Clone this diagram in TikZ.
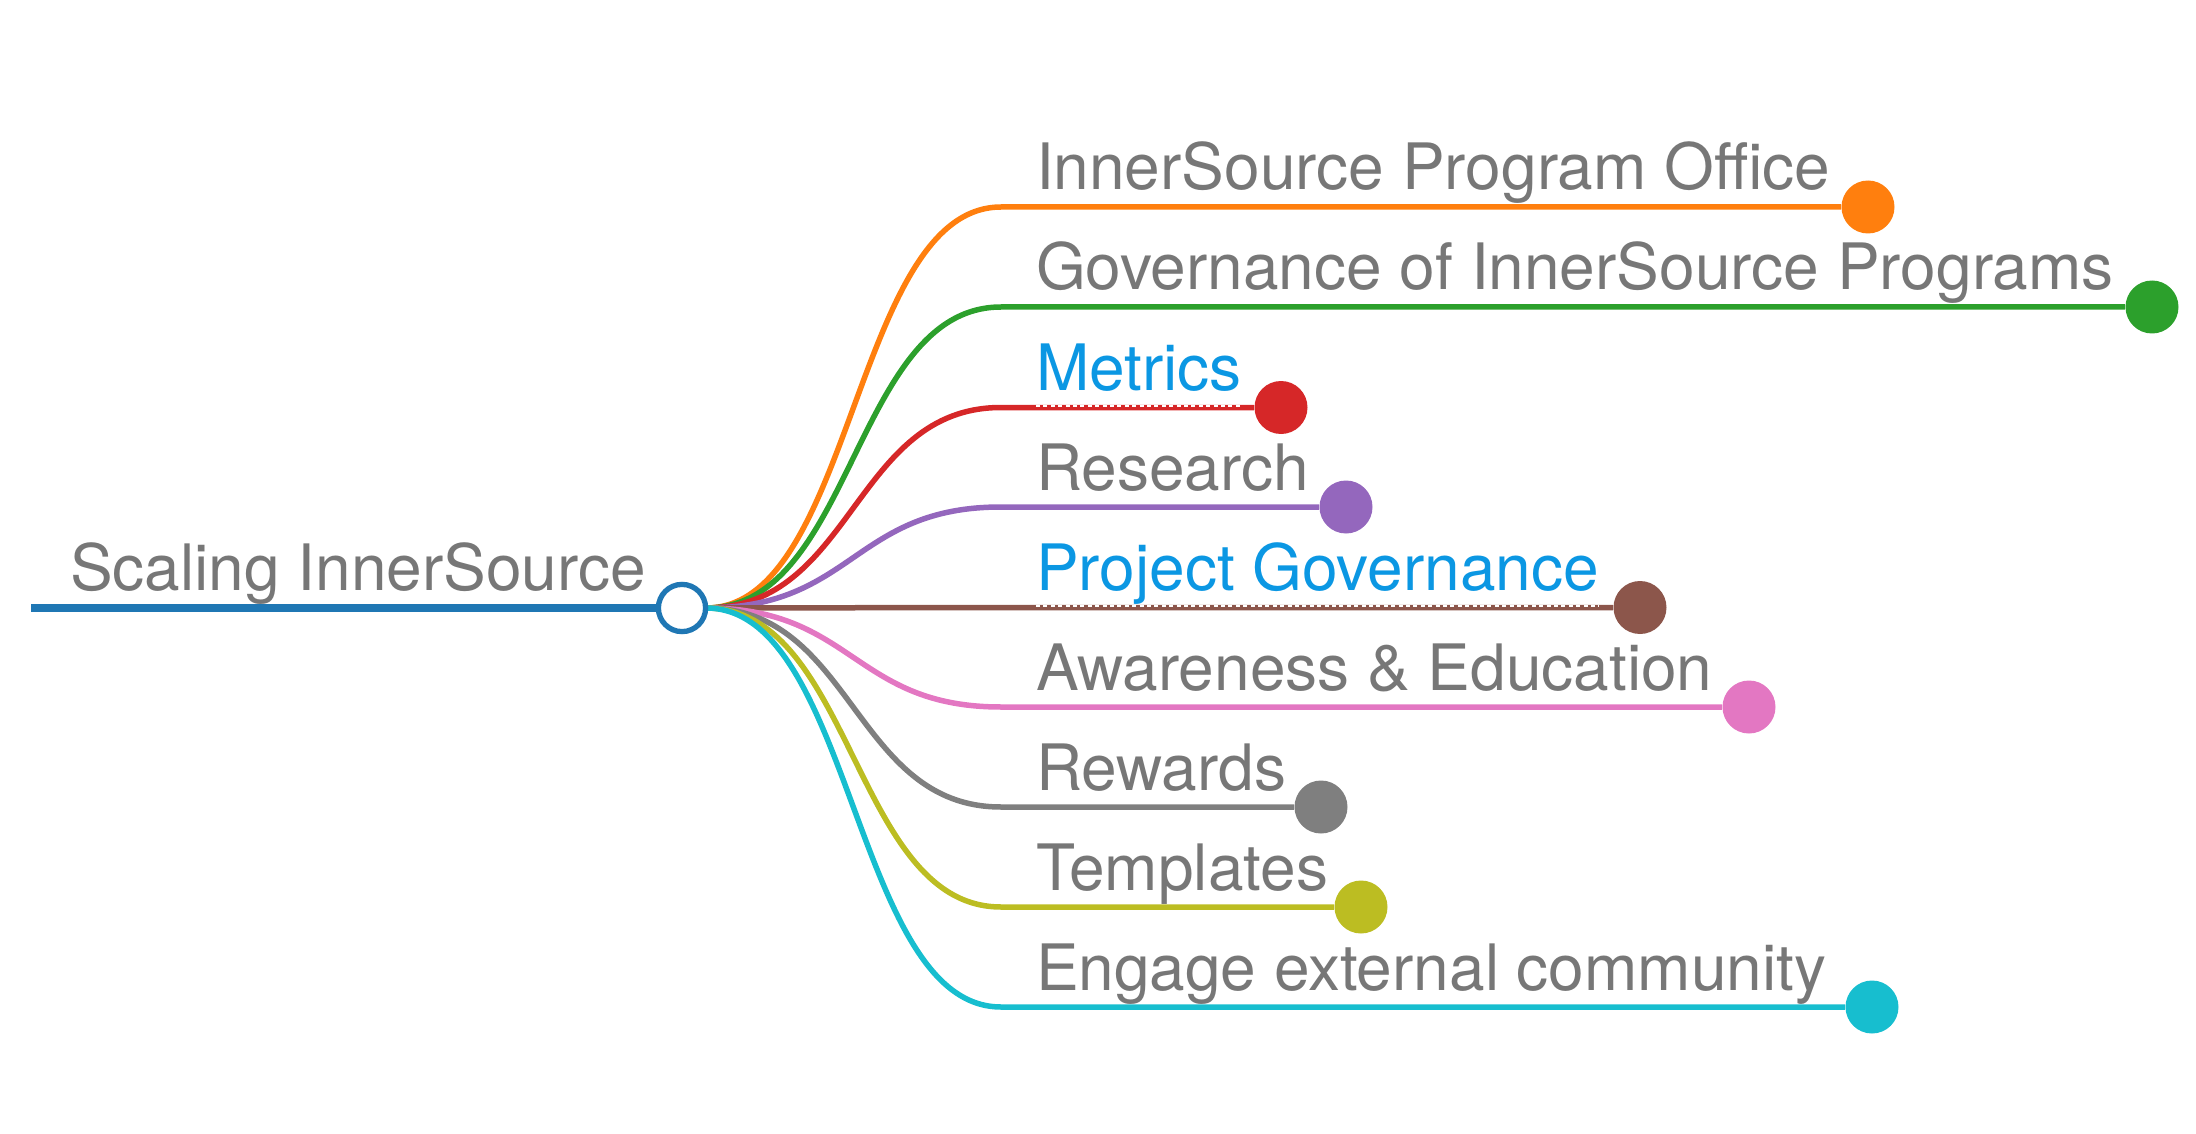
\documentclass[tikz,border=0pt]{standalone}
\usepackage{fontspec}
\setmainfont{TeX Gyre Heros}
\usetikzlibrary{calc}
\definecolor{cBlue}{HTML}{1F77B4}
\definecolor{cOrange}{HTML}{FF7F0E}
\definecolor{cGreen}{HTML}{2CA02C}
\definecolor{cRed}{HTML}{D62728}
\definecolor{cPurple}{HTML}{9467BD}
\definecolor{cBrown}{HTML}{8C564B}
\definecolor{cPink}{HTML}{E377C2}
\definecolor{cGray}{HTML}{7F7F7F}
\definecolor{cOlive}{HTML}{BCBD22}
\definecolor{cCyan}{HTML}{17BECF}
\definecolor{txtGray}{HTML}{777777}
\definecolor{txtLink}{HTML}{0B97E3}
\begin{document}
\begin{tikzpicture}[x=0.5pt,y=-0.5pt,
  topic/.style={anchor=base west,inner sep=0pt,outer sep=0pt,text=txtGray,
    font=\fontsize{32}{38}\selectfont},
  linktopic/.style={topic,text=txtLink},
  branch/.style={line width=2.75pt},
  enddot/.style={circle,inner sep=0pt,minimum size=26.5pt},
  linkmark/.style={white,line width=1.35pt,dash pattern=on 2pt off 1.7pt}]
\useasboundingbox (0,0) rectangle (2196,1134);

% hub where all branches leave the root
\coordinate (hub) at (706,608);

% branches: y, end dot x, colour, label, style
\foreach \i/\yy/\ex/\col/\txt/\sty in {
  1/207/1868/cOrange/InnerSource Program Office/topic,
  2/307/2152/cGreen/Governance of InnerSource Programs/topic,
  3/407.5/1281/cRed/Metrics/linktopic,
  4/507/1346/cPurple/Research/topic,
  5/607.5/1640/cBrown/Project Governance/linktopic,
  6/707/1749/cPink/Awareness \& Education/topic,
  7/807/1321/cGray/Rewards/topic,
  8/907/1361/cOlive/Templates/topic,
  9/1007/1872/cCyan/Engage external community/topic}{
  \coordinate (b\i) at (1001,\yy);
  \node[enddot,fill=\col] (d\i) at (\ex,\yy) {};
  \node[\sty] (t\i) at (1036,\yy-17) {\txt};
  \draw[branch,draw=\col] (hub) .. controls +(147.5,0) and +(-147.5,0) .. (b\i) -- (d\i.west);
}

% dotted marks under linked topics
\draw[linkmark] ($(t3.west |- b3)+(0,-1.5)$) -- ($(t3.east |- b3)+(0,-1.5)$);
\draw[linkmark] ($(t5.west |- b5)+(0,-1.5)$) -- ($(t5.east |- b5)+(0,-1.5)$);

% root topic
\coordinate (rootstart) at (31,608);
\node[circle,draw=cBlue,fill=white,line width=2.65pt,minimum size=23.6pt,inner sep=0pt] (root) at (682,608) {};
\node[topic] (rootlabel) at (70,590) {Scaling InnerSource};
\draw[cBlue,line width=4pt] (rootstart) -- (root.west);
\end{tikzpicture}
\end{document}
